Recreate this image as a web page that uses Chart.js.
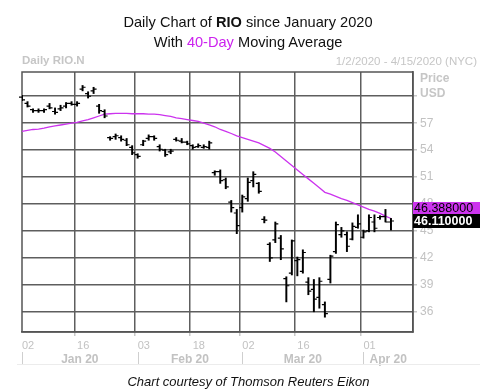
<!DOCTYPE html>
<html><head><meta charset="utf-8">
<script src="https://cdn.jsdelivr.net/npm/chart.js@4.4.1/dist/chart.umd.min.js"></script>
<style>
html,body{margin:0;padding:0;background:#fff;}
#wrap{position:relative;width:490px;height:389px;overflow:hidden;font-family:"Liberation Sans",Arial,sans-serif;}
canvas{position:absolute;left:0;top:0;}
.t{position:absolute;white-space:nowrap;line-height:1;}
</style></head><body>
<div id="wrap">
<canvas id="c" width="490" height="389"></canvas>
<div class="t" style="left:0;width:496px;text-align:center;top:14.6px;font-size:14.6px;color:#111">Daily Chart of <b>RIO</b> since January 2020</div>
<div class="t" style="left:0;width:496px;text-align:center;top:34.6px;font-size:14.6px;color:#111">With <span style="color:#cc22ee">40-Day</span> Moving Average</div>
<div class="t" style="left:22px;top:55.3px;font-size:11.5px;font-weight:bold;color:#c6c6c6">Daily RIO.N</div>
<div class="t" style="right:13px;top:56.3px;font-size:11.5px;color:#c6c6c6">1/2/2020 - 4/15/2020 (NYC)</div>
<div class="t" style="left:420px;top:71.8px;font-size:12px;font-weight:bold;color:#c6c6c6">Price</div>
<div class="t" style="left:420px;top:86.8px;font-size:12px;font-weight:bold;color:#c6c6c6">USD</div>
<div class="t" style="left:0;width:497px;text-align:center;top:375px;font-size:13px;font-style:italic;color:#111">Chart courtesy of Thomson Reuters Eikon</div>
</div>
<script>
const tradingDays = [
 '01/02','01/03','01/06','01/07','01/08','01/09','01/10','01/13','01/14','01/15','01/16','01/17','01/21','01/22','01/23','01/24','01/27','01/28','01/29','01/30','01/31',
 '02/03','02/04','02/05','02/06','02/07','02/10','02/11','02/12','02/13','02/14','02/18','02/19','02/20','02/21','02/24','02/25','02/26','02/27','02/28',
 '03/02','03/03','03/04','03/05','03/06','03/09','03/10','03/11','03/12','03/13','03/16','03/17','03/18','03/19','03/20','03/23','03/24','03/25','03/26','03/27','03/30','03/31',
 '04/01','04/02','04/03','04/06','04/07','04/08','04/09','04/13','04/14','04/15'];

const opens = [59.9,59.2,58.5,58.4,58.4,58.9,58.3,58.6,58.9,59.2,59.1,60.8,60.3,60.6,58.9,58.3,
 55.4,55.5,55.4,55.1,54.3,53.5,54.6,55.3,55.5,54.4,54.0,53.8,55.2,55.0,54.9,54.5,54.4,54.3,54.3,
 51.5,51.6,50.7,48.2,47.0,47.6,48.6,50.6,50.3,46.3,43.5,44.0,44.2,39.7,40.3,41.7,40.5,39.3,38.5,37.6,36.8,
 39.6,42.7,44.6,44.6,44.1,45.4,44.3,45.0,46.0,46.5,46.6,46.0];
const highs = [60.1,59.4,58.6,58.6,58.6,59.2,58.7,59.0,59.3,59.4,59.4,61.2,60.5,61.0,59.1,58.5,
 55.5,55.8,55.6,55.3,54.5,53.6,55.1,55.7,55.6,54.6,54.1,54.1,55.4,55.3,55.0,54.6,54.7,54.6,55.0,
 51.7,51.8,50.9,48.4,47.4,49.0,50.9,51.6,50.4,46.6,43.7,46.0,44.5,39.9,44.0,42.1,42.9,39.8,39.6,39.8,37.1,
 42.3,46.0,45.4,44.9,45.9,46.8,45.1,46.8,46.8,46.7,47.4,46.4];
const lows = [59.5,58.8,58.2,58.2,58.2,58.6,58.0,58.4,58.7,59.0,58.9,60.6,59.8,60.3,58.1,57.6,
 55.1,55.2,55.0,54.5,53.5,53.1,54.5,55.1,55.1,53.9,53.3,53.6,55.0,54.8,54.6,54.1,54.3,54.2,54.1,
 51.2,50.3,49.7,47.1,44.7,47.1,48.3,49.9,49.2,45.9,41.6,43.7,41.8,37.1,40.1,40.0,40.3,37.9,36.0,36.4,35.4,
 39.2,42.5,44.3,42.7,44.0,45.3,44.2,44.9,44.9,46.3,46.0,45.1];
const closes = [59.6,58.9,58.4,58.4,58.5,58.7,58.2,58.7,59.2,59.1,59.2,61.0,60.0,60.8,58.4,57.8,
 55.3,55.6,55.2,54.6,53.7,53.3,55.0,55.5,55.3,54.1,53.5,53.9,55.1,54.9,54.7,54.3,54.5,54.4,54.8,
 51.6,50.6,49.9,47.6,45.6,48.8,50.4,51.3,49.4,46.2,42.0,45.8,43.0,38.9,43.9,41.8,42.6,38.3,37.4,39.4,35.8,
 42.2,45.7,45.0,43.3,45.5,45.8,44.9,46.5,45.3,46.6,46.0,46.11];
const movingAvg40 = [56.1,56.2,56.3,56.35,56.45,56.6,56.7,56.8,56.9,57.0,57.1,57.25,57.4,57.6,57.8,58.0,
 58.05,58.1,58.1,58.1,58.05,58.05,58.05,58.0,58.0,57.95,57.85,57.75,57.6,57.5,57.4,57.3,57.2,57.0,56.8,
 56.6,56.3,56.1,55.85,55.6,55.4,55.2,55.0,54.8,54.5,54.2,53.8,53.3,52.8,52.3,51.8,51.3,50.8,50.3,49.8,49.3,
 49.1,48.85,48.6,48.4,48.15,47.9,47.65,47.4,47.2,46.95,46.65,46.39];

const xTickDays = ['01/02','01/16','02/03','02/18','03/02','03/16','04/01'];
const monthLabels = ['Jan 20','Feb 20','Mar 20','Apr 20'];
const monthStartDays = ['01/02','02/03','03/02','04/01'];
const yTicks = [36,39,42,45,48,51,54,57,60];
const yMin = 33.75, yMax = 62.7;
const lastMA = 46.388, lastClose = 46.11;

const tickIdx = new Set(xTickDays.map(d => tradingDays.indexOf(d)));
const highLow = tradingDays.map((d, i) => i < highs.length ? [lows[i], highs[i]] : null);
const GRID = '#5e5e5e', AXTXT = '#c2c2c2', MAGENTA = '#cc33ee';

const frame = {
  id: 'frame',
  beforeDatasetsDraw(chart) {
    const {ctx, chartArea: a} = chart;
    ctx.save(); ctx.strokeStyle = '#555'; ctx.lineWidth = 1.5;
    ctx.strokeRect(a.left, a.top, a.right - a.left, a.bottom - a.top);
    ctx.restore();
  }
};
const ohlcTicks = {
  id: 'ohlcTicks',
  afterDatasetsDraw(chart) {
    const {ctx, scales: {x, y}} = chart;
    ctx.save(); ctx.strokeStyle = '#000'; ctx.lineWidth = 1.2; ctx.beginPath();
    opens.forEach((o, i) => {
      const px = x.getPixelForValue(i);
      const yo = y.getPixelForValue(o), yc = y.getPixelForValue(closes[i]);
      ctx.moveTo(px - 3, yo); ctx.lineTo(px, yo);
      ctx.moveTo(px, yc); ctx.lineTo(px + 3, yc);
    });
    ctx.stroke(); ctx.restore();
  }
};
const extras = {
  id: 'extras',
  afterDraw(chart) {
    const {ctx, chartArea: a, scales: {x, y}} = chart;
    ctx.save();
    const mIdx = monthStartDays.map(d => tradingDays.indexOf(d));
    ctx.strokeStyle = '#cfcfcf'; ctx.lineWidth = 1;
    ctx.fillStyle = AXTXT; ctx.font = 'bold 12px "Liberation Sans", Arial, sans-serif';
    ctx.textAlign = 'center'; ctx.textBaseline = 'alphabetic';
    mIdx.forEach((mi, k) => {
      const x0 = x.getPixelForValue(mi);
      const x1 = k + 1 < mIdx.length ? x.getPixelForValue(mIdx[k + 1]) : a.right;
      ctx.beginPath(); ctx.moveTo(Math.round(x0) + 0.5, a.bottom + 20); ctx.lineTo(Math.round(x0) + 0.5, a.bottom + 32); ctx.stroke();
      ctx.fillText(monthLabels[k], (x0 + x1) / 2, a.bottom + 30.5);
    });
    ctx.strokeStyle = '#ececec';
    ctx.beginPath(); ctx.moveTo(17, a.bottom + 32.5); ctx.lineTo(480, a.bottom + 32.5); ctx.stroke();
    const yc = y.getPixelForValue(lastClose);
    const bx = a.right, bw = 67;
    ctx.fillStyle = '#000'; ctx.fillRect(bx, yc - 7, bw, 14);
    ctx.fillStyle = MAGENTA; ctx.fillRect(bx, yc - 19, bw, 12);
    ctx.textAlign = 'left';
    ctx.font = 'bold 12.5px "Liberation Sans", Arial, sans-serif';
    ctx.fillStyle = '#fff'; ctx.fillText(lastClose.toFixed(6), bx + 1, yc + 4.5);
    ctx.font = '12.5px "Liberation Sans", Arial, sans-serif';
    ctx.fillStyle = '#000'; ctx.fillText(lastMA.toFixed(6), bx + 1, yc - 8.5);
    ctx.restore();
  }
};

new Chart(document.getElementById('c'), {
  type: 'bar',
  data: {
    labels: tradingDays,
    datasets: [
      {type: 'line', label: '40-Day MA', data: movingAvg40, borderColor: MAGENTA, borderWidth: 1.3,
       pointRadius: 0, tension: 0, fill: false, order: 2},
      {type: 'bar', label: 'RIO.N', data: highLow, backgroundColor: '#000', borderWidth: 0,
       barThickness: 1.3, order: 1}
    ]
  },
  options: {
    responsive: false, devicePixelRatio: 1, animation: false,
    layout: {padding: {left: 22, top: 72, right: 0, bottom: 0}},
    plugins: {legend: {display: false}, tooltip: {enabled: false}, title: {display: false}},
    scales: {
      x: {
        type: 'category', offset: false,
        afterFit(s) { s.height = 57; },
        ticks: {autoSkip: false, maxRotation: 0, minRotation: 0, align: 'start', padding: 3,
          color: AXTXT, font: {size: 11, family: '"Liberation Sans", Arial, sans-serif'},
          callback: (v, i) => tickIdx.has(i) ? tradingDays[i].slice(3) : ''},
        grid: {color: c => tickIdx.has(c.index) ? GRID : 'rgba(0,0,0,0)', lineWidth: 1.5, tickLength: 4,
          tickColor: c => tickIdx.has(c.index) ? '#c8c8c8' : 'rgba(0,0,0,0)'},
        border: {color: '#555', width: 1.5}
      },
      y: {
        position: 'right', min: yMin, max: yMax,
        afterFit(s) { s.width = 77; },
        afterBuildTicks(s) { s.ticks = yTicks.map(v => ({value: v})); },
        ticks: {padding: 3, color: AXTXT, font: {size: 12, family: '"Liberation Sans", Arial, sans-serif'},
          callback: v => v === 60 ? '' : String(v)},
        grid: {color: GRID, lineWidth: 1.5, tickLength: 4, tickColor: '#c8c8c8'},
        border: {color: '#555', width: 1.5}
      }
    }
  },
  plugins: [frame, ohlcTicks, extras]
});
</script>
</body></html>
